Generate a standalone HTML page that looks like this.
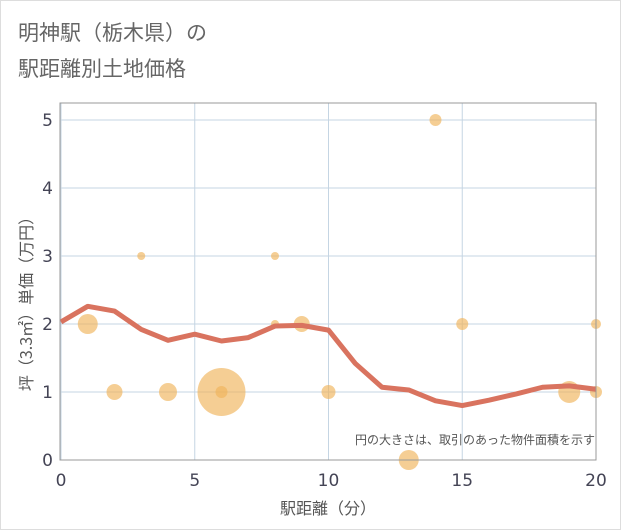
<!DOCTYPE html>
<html><head><meta charset="utf-8"><style>
body{margin:0;background:#fff}
svg{display:block;font-family:"DejaVu Sans","Noto Sans CJK JP",sans-serif}
</style></head><body>
<svg width="621" height="530">
<rect x="0.5" y="0.5" width="620" height="529" fill="#fff" stroke="#ddd"/>
<text x="18" y="40" font-size="21" fill="#666" font-family="Noto Sans CJK JP,sans-serif">明神駅（栃木県）の</text>
<text x="18" y="76" font-size="21" fill="#666" font-family="Noto Sans CJK JP,sans-serif">駅距離別土地価格</text>
<g id="grid"></g>
<g id="bubbles"></g>
<path id="line" fill="none" stroke="#d9735f" stroke-width="5" stroke-linejoin="round"/>
<rect x="60" y="103" width="536" height="357" fill="none" stroke="#999"/>
<g id="ticks"></g>
<text x="595" y="444" font-size="12" fill="#555" text-anchor="end" font-family="Noto Sans CJK JP,sans-serif">円の大きさは、取引のあった物件面積を示す</text>
<text x="328" y="514" font-size="16" fill="#555" text-anchor="middle" font-family="Noto Sans CJK JP,sans-serif">駅距離（分）</text>
<text transform="translate(32,300) rotate(-90)" font-size="16" fill="#555" text-anchor="middle" font-family="Noto Sans CJK JP,sans-serif">坪（3.3㎡）単価（万円）</text>
</svg>
<script>
const lineX=[0,1,2,3,4,5,6,7,8,9,10,11,12,13,14,15,16,17,18,19,20];
const lineY=[2.03,2.26,2.19,1.92,1.76,1.85,1.75,1.80,1.97,1.98,1.91,1.42,1.07,1.03,0.87,0.80,0.88,0.97,1.07,1.09,1.04];
const bubX=[1,2,3,4,6,6,8,8,9,10,13,14,15,19,20,20];
const bubY=[2,1,3,1,1,1,3,2,2,1,0,5,2,1,2,1];
const bubR=[10,8,4,9,24,6,4,4,8,7,10,6,6,11,5,6];
const xTicks=[0,5,10,15,20];
const yTicks=[0,1,2,3,4,5];
const NS="http://www.w3.org/2000/svg";
const sx=v=>61+v*26.75, sy=v=>460-v*68;
const grid=document.getElementById('grid'),ticks=document.getElementById('ticks');
xTicks.forEach(t=>{
 const l=document.createElementNS(NS,'line');
 
 
 l.setAttribute('x1',sx(t));l.setAttribute('x2',sx(t));l.setAttribute('y1',103);l.setAttribute('y2',460);
 l.setAttribute('stroke','#c5d5e3');grid.appendChild(l);
 const tx=document.createElementNS(NS,'text');
 
 
 tx.setAttribute('x',sx(t));tx.setAttribute('y',486);tx.setAttribute('font-size','17');tx.setAttribute('fill','#445');tx.setAttribute('text-anchor','middle');
 tx.textContent=t;ticks.appendChild(tx);
});
yTicks.forEach(t=>{
 const l=document.createElementNS(NS,'line');
 
 
 l.setAttribute('x1',60);l.setAttribute('x2',596);l.setAttribute('y1',sy(t));l.setAttribute('y2',sy(t));
 l.setAttribute('stroke','#c5d5e3');grid.appendChild(l);
 const tx=document.createElementNS(NS,'text');
 
 
 tx.setAttribute('x',53);tx.setAttribute('y',sy(t)+6);tx.setAttribute('font-size','17');tx.setAttribute('fill','#445');tx.setAttribute('text-anchor','end');
 tx.textContent=t;ticks.appendChild(tx);
});
const bg=document.getElementById('bubbles');
bubX.forEach((x,i)=>{
 const c=document.createElementNS(NS,'circle');
 
 
 c.setAttribute('cx',sx(x));c.setAttribute('cy',sy(bubY[i]));c.setAttribute('r',bubR[i]);
 c.setAttribute('fill','rgba(240,180,90,0.65)');bg.appendChild(c);
});
document.getElementById('line').setAttribute('d',lineX.map((x,i)=>(i?'L':'M')+sx(x)+','+sy(lineY[i])).join(''));
</script>
</body></html>
